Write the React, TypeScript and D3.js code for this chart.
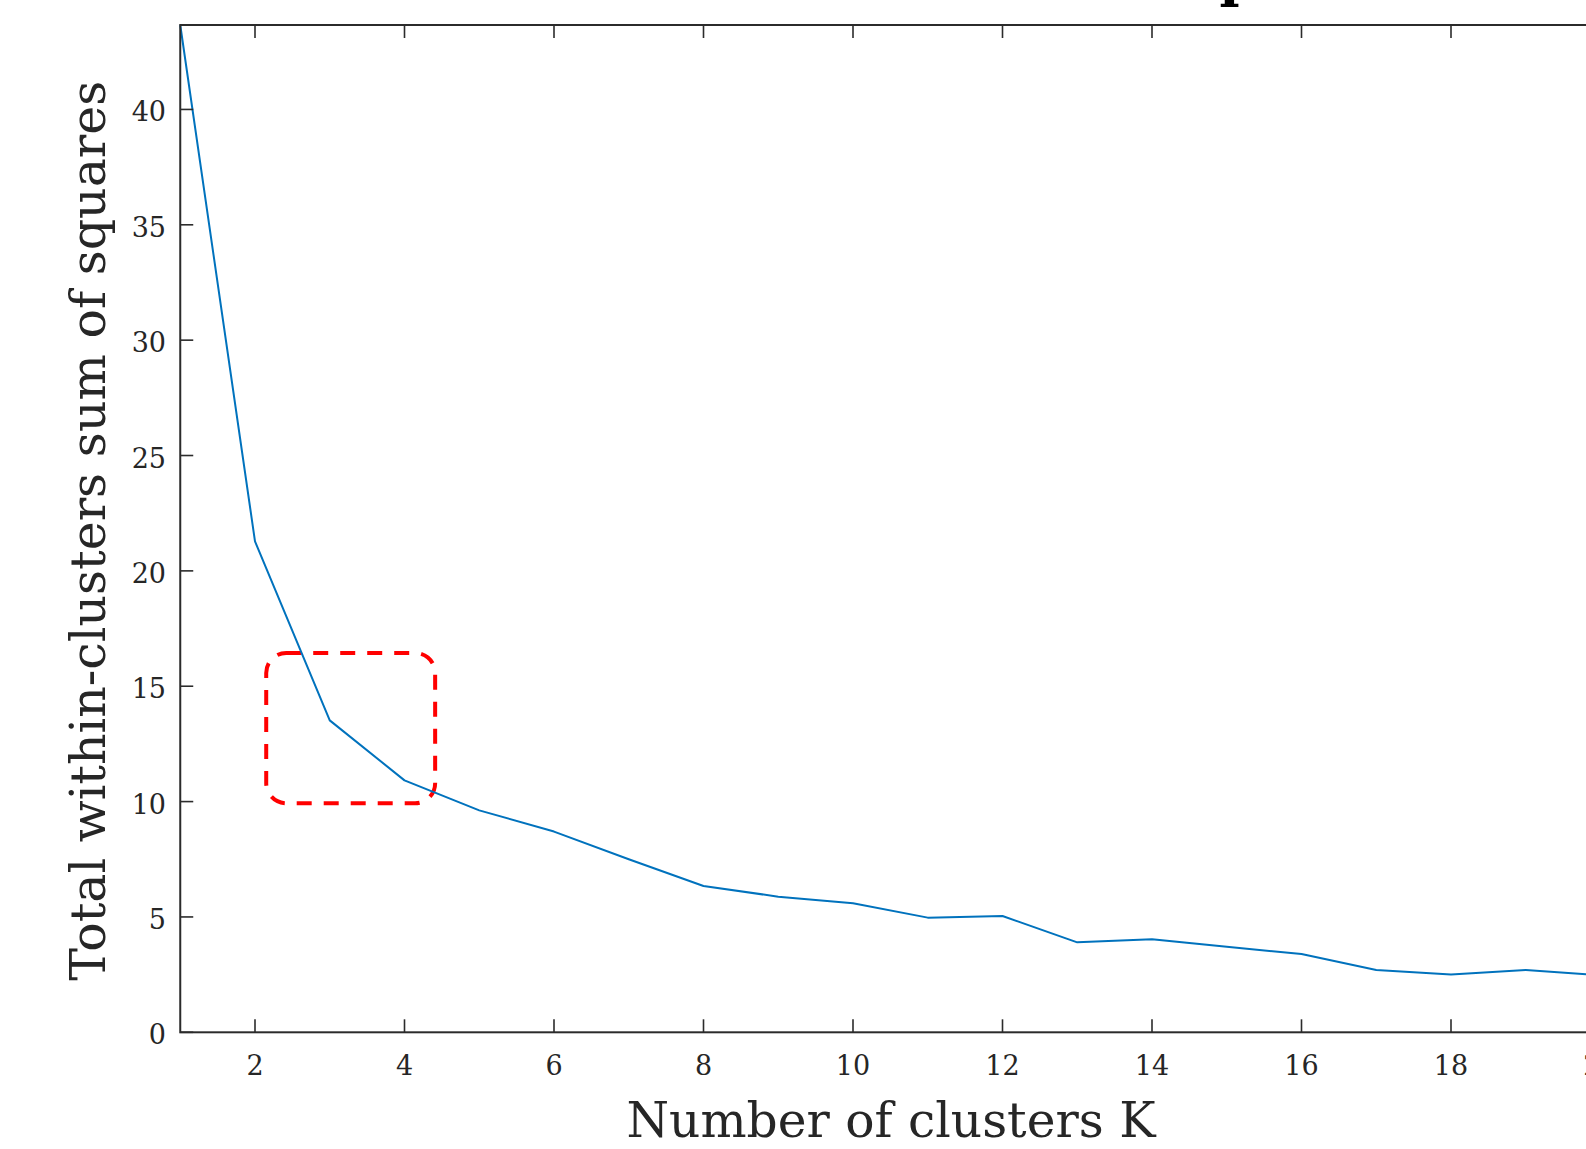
import React from "react";
import * as d3 from "d3";

const clusterCounts: number[] = [1, 2, 3, 4, 5, 6, 7, 8, 9, 10, 11, 12, 13, 14, 15, 16, 17, 18, 19, 20];
const wcssValues: number[] = [43.66, 21.28, 13.52, 10.92, 9.62, 8.7, 7.5, 6.34, 5.88, 5.59, 4.97, 5.04, 3.9, 4.03, 3.71, 3.39, 2.7, 2.51, 2.7, 2.47];
const xTickValues: number[] = [2, 4, 6, 8, 10, 12, 14, 16, 18, 20];
const yTickValues: number[] = [0, 5, 10, 15, 20, 25, 30, 35, 40];
const highlightK: number[] = [2.15, 4.41];
const highlightV: number[] = [9.93, 16.44];
const titleText = "Elbow method for optimal K";
const xLabelText = "Number of clusters K";
const yLabelText = "Total within-clusters sum of squares";

const W = 1586;
const H = 1149;
const left = 180.25;
const right = 1600.5;
const top = 25;
const bottom = 1032.3;
const axisColor = "#2b2b2b";
const textColor = "#262626";
const font = "'DejaVu Serif', 'Liberation Serif', serif";
const tickLen = 13;

export default function App() {
  const x = d3.scaleLinear().domain([1, 20]).range([left, right]);
  const y = d3.scaleLinear().domain([0, 43.66]).range([bottom, top]);
  const pts = clusterCounts.map((k, i) => [k, wcssValues[i]] as [number, number]);
  const line = d3
    .line<[number, number]>()
    .x((d) => x(d[0]))
    .y((d) => y(d[1]));

  const hx0 = x(highlightK[0]);
  const hx1 = x(highlightK[1]);
  const hy0 = y(highlightV[1]);
  const hy1 = y(highlightV[0]);

  return (
    <svg
      width={W}
      height={H}
      style={{ position: "absolute", left: 0, top: 0, background: "#fff" }}
    >
      <rect x={0} y={0} width={W} height={H} fill="#fff" />
      {/* title (mostly cut off at top) */}
      <text
        x={1481}
        y={-4}
        textAnchor="end"
        fontFamily={font}
        fontWeight="bold"
        fontSize={54}
        fill="#000"
      >
        {titleText}
      </text>

      {/* highlight box */}
      <rect
        x={hx0}
        y={hy0}
        width={hx1 - hx0}
        height={hy1 - hy0}
        rx={20}
        ry={20}
        fill="none"
        stroke="#ff0000"
        strokeWidth={4}
        strokeDasharray="15 12"
      />

      {/* data line */}
      <path d={line(pts) || ""} fill="none" stroke="#0072BD" strokeWidth={2} strokeLinejoin="round" />

      {/* axes box */}
      <rect
        x={left}
        y={top}
        width={right - left}
        height={bottom - top}
        fill="none"
        stroke={axisColor}
        strokeWidth={2}
      />

      {/* x ticks */}
      {xTickValues.map((t) => (
        <g key={"xt" + t}>
          <line x1={x(t)} x2={x(t)} y1={bottom} y2={bottom - tickLen} stroke={axisColor} strokeWidth={1.6} />
          <line x1={x(t)} x2={x(t)} y1={top} y2={top + tickLen} stroke={axisColor} strokeWidth={1.6} />
          <text
            x={x(t)}
            y={1075}
            textAnchor="middle"
            fontFamily={font}
            fontSize={27}
            fill={textColor}
          >
            {t}
          </text>
        </g>
      ))}

      {/* y ticks */}
      {yTickValues.map((t) => (
        <g key={"yt" + t}>
          <line x1={left} x2={left + tickLen} y1={y(t)} y2={y(t)} stroke={axisColor} strokeWidth={1.6} />
          <line x1={right} x2={right - tickLen} y1={y(t)} y2={y(t)} stroke={axisColor} strokeWidth={1.6} />
          <text
            x={166}
            y={y(t) + 12}
            textAnchor="end"
            fontFamily={font}
            fontSize={27}
            fill={textColor}
          >
            {t}
          </text>
        </g>
      ))}

      {/* axis labels */}
      <text
        x={891}
        y={1137}
        textAnchor="middle"
        fontFamily={font}
        fontSize={49}
        fill={textColor}
        textLength={529}
        lengthAdjust="spacingAndGlyphs"
      >
        {xLabelText}
      </text>
      <text
        transform={`translate(105, ${(top + bottom) / 2 + 2}) rotate(-90)`}
        textAnchor="middle"
        fontFamily={font}
        fontSize={49}
        fill={textColor}
        textLength={900}
        lengthAdjust="spacingAndGlyphs"
      >
        {yLabelText}
      </text>
    </svg>
  );
}
